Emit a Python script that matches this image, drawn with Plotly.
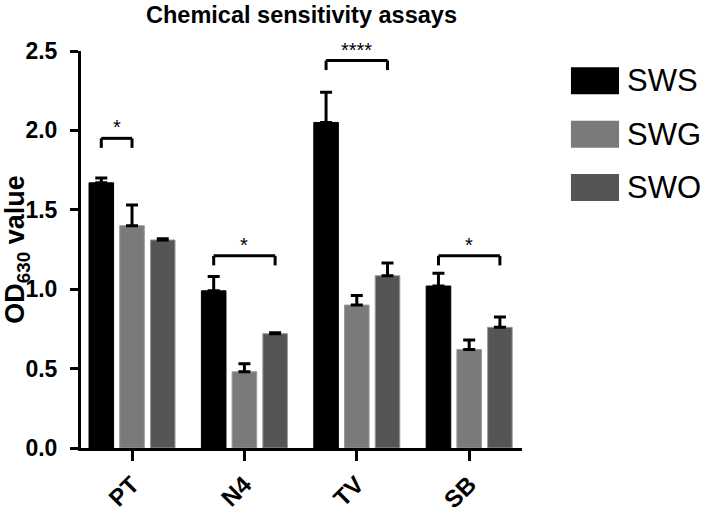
import plotly.graph_objects as go

categories = ["PT", "N4", "TV", "SB"]
series_names = ["SWS", "SWG", "SWO"]
sws_mean = [1.67, 0.99, 2.05, 1.02]
sws_err = [0.03, 0.09, 0.19, 0.08]
swg_mean = [1.40, 0.48, 0.90, 0.62]
swg_err = [0.13, 0.05, 0.06, 0.06]
swo_mean = [1.31, 0.72, 1.085, 0.76]
swo_err = [0.008, 0.005, 0.08, 0.065]
colors = ["#000000", "#7a7a7a", "#555555"]

# significance brackets: category index, series pair, height, label
sig_cat = [0, 1, 2, 3]
sig_from = [0, 0, 0, 0]
sig_to = [1, 2, 2, 2]
sig_height = [1.95, 1.21, 2.44, 1.21]
sig_label = ["*", "*", "****", "*"]

y_ticks = [0.0, 0.5, 1.0, 1.5, 2.0, 2.5]

means = [sws_mean, swg_mean, swo_mean]
errs = [sws_err, swg_err, swo_err]

BARGAP = 0.18
BARGROUPGAP = 0.2
FONT = "Liberation Sans, Arial"

fig = go.Figure()
for k in range(3):
    fig.add_trace(go.Bar(
        x=categories, y=means[k], name=series_names[k],
        marker=dict(color=colors[k], line=dict(color="#9a9a9a" if k > 0 else "#000000", width=1)),
        error_y=dict(type="data", array=errs[k], arrayminus=[0] * 4, symmetric=False,
                     color="#000000", thickness=3, width=6),
        showlegend=False,
    ))

slot = (1 - BARGAP) / 3
shapes = []
annotations = []
for c, a, b, h, lab in zip(sig_cat, sig_from, sig_to, sig_height, sig_label):
    xa = c + (a - 1) * slot
    xb = c + (b - 1) * slot
    ln = dict(color="#000000", width=3)
    shapes.append(dict(type="line", xref="x", yref="y", x0=xa, x1=xb, y0=h, y1=h, line=ln))
    shapes.append(dict(type="line", xref="x", yref="y", x0=xa, x1=xa, y0=h, y1=h - 0.06, line=ln))
    shapes.append(dict(type="line", xref="x", yref="y", x0=xb, x1=xb, y0=h, y1=h - 0.06, line=ln))
    annotations.append(dict(x=(xa + xb) / 2, y=h, xref="x", yref="y", text=lab, showarrow=False,
                            yanchor="bottom", yshift=-2,
                            font=dict(family=FONT, size=20, color="#000000")))

# custom legend with large swatches
for k, name in enumerate(series_names):
    yc = 0.925 - k * 0.1345
    shapes.append(dict(type="rect", xref="paper", yref="paper",
                       x0=1.111, x1=1.220, y0=yc - 0.034, y1=yc + 0.034,
                       fillcolor=colors[k], line=dict(width=0)))
    annotations.append(dict(x=1.233, y=yc, xref="paper", yref="paper", text=name, showarrow=False,
                            xanchor="left", yanchor="middle",
                            font=dict(family=FONT, size=31, color="#000000")))

fig.update_layout(
    width=709, height=512,
    margin=dict(l=81, r=187, t=51, b=64),
    paper_bgcolor="white", plot_bgcolor="white",
    barmode="group", bargap=BARGAP, bargroupgap=BARGROUPGAP,
    title=dict(text="<b>Chemical sensitivity assays</b>", x=(81 + 522) / 2 / 709, xanchor="center",
               y=1 - 15 / 512, yanchor="middle",
               font=dict(family=FONT, size=23.5, color="#000000")),
    shapes=shapes, annotations=annotations,
    showlegend=False,
)
fig.update_xaxes(
    range=[-0.454, 3.47], showline=True, linecolor="#000000", linewidth=3,
    ticks="outside", ticklen=10, tickwidth=3, tickcolor="#000000",
    tickangle=-45, tickfont=dict(family=FONT, size=24, color="#000000"),
    tickvals=categories, ticktext=["<b>%s</b>" % c for c in categories],
    showgrid=False, zeroline=False, automargin=False,
)
fig.update_yaxes(
    range=[0, 2.5], tickvals=y_ticks, ticktext=["<b>%.1f</b>" % v for v in y_ticks],
    showline=True, linecolor="#000000", linewidth=3,
    ticks="outside", ticklen=8, tickwidth=3, tickcolor="#000000",
    tickfont=dict(family=FONT, size=23, color="#000000"),
    ticklabelstandoff=8,
    title=dict(text="<b>OD<sub>630</sub> value</b>", standoff=9,
               font=dict(family=FONT, size=27, color="#000000")),
    showgrid=False, zeroline=False, automargin=False,
)

fig.write_html("out.html", config={"displayModeBar": False},
               post_script="document.body.style.margin='0px';")
